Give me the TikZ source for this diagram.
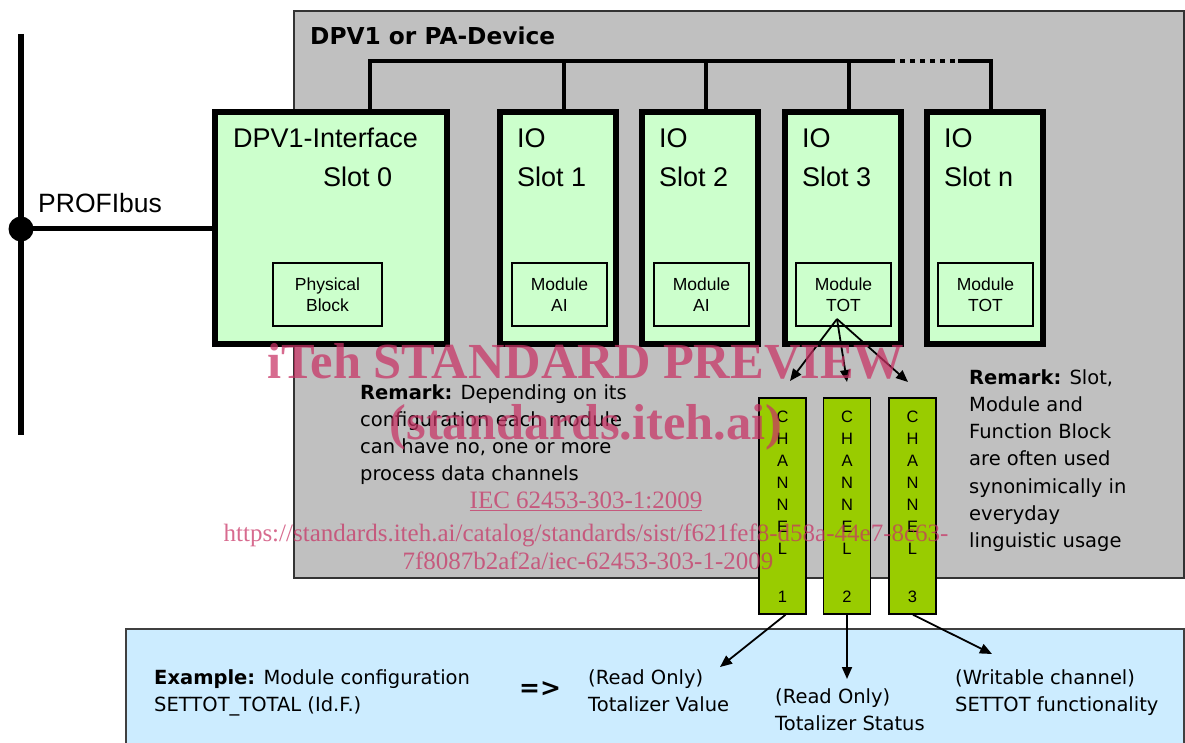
\documentclass[tikz,border=0pt]{standalone}
\usepackage{fontspec}
\setmainfont{Liberation Sans}
\newfontfamily\dvs{DejaVu Sans}
\newfontfamily\wmserif{Liberation Serif}
\usetikzlibrary{arrows.meta,calc}
\definecolor{devgray}{HTML}{C0C0C0}
\definecolor{slotgreen}{HTML}{CCFFCC}
\definecolor{chgreen}{HTML}{99CC00}
\definecolor{exblue}{HTML}{CCECFF}
\definecolor{wmred}{RGB}{200,50,100}
\tikzset{
  slotbox/.style={draw=black, line width=6pt, fill=slotgreen, minimum width=116pt, minimum height=232pt, inner sep=0pt},
  modbox/.style={draw=black, line width=1.5pt, fill=slotgreen, minimum width=95pt, minimum height=63pt, inner sep=0pt, align=center, font=\fontsize{17.5}{21}\selectfont},
  chbox/.style={draw=black, line width=1.5pt, fill=chgreen, minimum width=47pt, minimum height=216pt, inner sep=0pt},
  chtext/.style={inner sep=0pt, align=center, font=\fontsize{16.5}{22}\selectfont},
  biglabel/.style={inner sep=0pt, anchor=base west, font=\fontsize{27}{32}\selectfont},
  smalltext/.style={inner sep=0pt, anchor=north west, align=left, font=\dvs\fontsize{19.5}{27.3}\selectfont},
  wire/.style={draw=black, line width=4pt},
  chanarrow/.style={draw=black, line width=1.8pt, -{Triangle[length=12pt,width=10pt]}},
  wm/.style={inner sep=0pt, anchor=base, text=wmred, text opacity=0.72},
}
\begin{document}
\begin{tikzpicture}[x=1pt,y=-1pt]
\useasboundingbox (0,0) rectangle (1185,743);
\clip (0,0) rectangle (1185,743);

% device background
\node[draw=black!80, line width=2pt, fill=devgray, minimum width=890pt, minimum height=567pt, anchor=north west, inner sep=0pt] (dev) at (293,10) {};
\node[inner sep=0pt, anchor=base west, font=\dvs\bfseries\fontsize{23.3}{28}\selectfont] (title) at (310,45) {DPV1 or PA-Device};

% PROFIbus
\coordinate (bt) at (21,34);
\coordinate (bb) at (21,435);
\draw[line width=6pt] (bt) -- (bb);
\node[circle, fill=black, minimum size=25pt, inner sep=0pt] (pb) at (21,229) {};
\node[inner sep=0pt, anchor=base west, font=\fontsize{26.5}{32}\selectfont] (pblabel) at (38,213) {PROFIbus};

% slots
\node[slotbox, minimum width=232pt] (s0) at (331,228) {};
\node[slotbox] (s1) at (558,228) {};
\node[slotbox] (s2) at (700,228) {};
\node[slotbox] (s3) at (842.5,228) {};
\node[slotbox] (sn) at (984.5,228) {};

\draw[line width=5pt] (pb.center) -- (pb.center -| s0.west);

% internal bus
\coordinate (c0) at (370,61);
\coordinate (c1) at (564,61);
\coordinate (c2) at (706,61);
\coordinate (c3) at (849,61);
\coordinate (cn) at (991,61);
\coordinate (dotA) at (890,61);
\coordinate (dotB) at (958,61);
\draw[wire] (c0 |- s0.north) -- (c0) -- (dotA);
\draw[black, line width=4pt, dash pattern=on 5pt off 5pt] (dotA) -- (dotB);
\draw[wire] (dotB) -- (cn) -- (cn |- sn.north);
\draw[wire] (c1) -- (c1 |- s1.north);
\draw[wire] (c2) -- (c2 |- s2.north);
\draw[wire] (c3) -- (c3 |- s3.north);

% slot labels
\node[biglabel] (l0a) at (233,148) {DPV1-Interface};
\node[biglabel] (l0b) at (323,187) {Slot 0};
\node[biglabel] (l1a) at (517,148) {IO};
\node[biglabel] (l1b) at (517,187) {Slot 1};
\node[biglabel] (l2a) at (659,148) {IO};
\node[biglabel] (l2b) at (659,187) {Slot 2};
\node[biglabel] (l3a) at (802,148) {IO};
\node[biglabel] (l3b) at (802,187) {Slot 3};
\node[biglabel] (lna) at (944,148) {IO};
\node[biglabel] (lnb) at (944,187) {Slot n};

% modules
\node[modbox, minimum width=109pt] (m0) at (327.5,294.5) {Physical\\Block};
\node[modbox] (m1) at (559.5,294.5) {Module\\AI};
\node[modbox] (m2) at (701.5,294.5) {Module\\AI};
\node[modbox] (m3) at (843.5,294.5) {Module\\TOT};
\node[modbox] (mn) at (985.5,294.5) {Module\\TOT};

% example box
\node[draw=black!75, line width=2pt, fill=exblue, minimum width=1058pt, minimum height=200pt, anchor=north west, inner sep=0pt] (exb) at (125,628) {};

% channels
\node[chbox] (ch1) at (782.5,506) {};
\node[chbox] (ch2) at (847,506) {};
\node[chbox] (ch3) at (912.5,506) {};
\node[chtext, anchor=north] (ch1t) at (782.5,411) {C\\H\\A\\N\\N\\E\\L};
\node[chtext, anchor=north] (ch2t) at (847,411) {C\\H\\A\\N\\N\\E\\L};
\node[chtext, anchor=north] (ch3t) at (912.5,411) {C\\H\\A\\N\\N\\E\\L};
\node[chtext, anchor=base] (ch1n) at (782.5,602) {1};
\node[chtext, anchor=base] (ch2n) at (847,602) {2};
\node[chtext, anchor=base] (ch3n) at (912.5,602) {3};

% arrows module -> channels
\coordinate (tsrc) at (837,319);
\coordinate (t1) at (790,381);
\coordinate (t2) at (847,382);
\coordinate (t3) at (908,382);
\draw[chanarrow] (tsrc) -- (t1);
\draw[chanarrow] (tsrc) -- (t2);
\draw[chanarrow] (tsrc) -- (t3);

% arrows channels -> outputs
\coordinate (b1) at (720,667);
\coordinate (b2) at (847,679);
\coordinate (b3) at (992,654);
\draw[chanarrow] ($(ch1.south)+(3,0)$) -- (b1);
\draw[chanarrow] (ch2.south) -- (b2);
\draw[chanarrow] ($(ch3.south)+(0.5,0)$) -- (b3);

% remarks
\node[smalltext] (rem1) at (360,384) {\textbf{Remark:} Depending on its\\configuration each module\\can have no, one or more\\process data channels};
\node[smalltext] (rem2) at (969,369) {\textbf{Remark:} Slot,\\Module and\\Function Block\\are often used\\synonimically in\\everyday\\linguistic usage};

% example texts
\node[smalltext] (ex) at (154,669.5) {\textbf{Example:} Module configuration\\SETTOT\_TOTAL (Id.F.)};
\node[inner sep=0pt, font=\dvs\bfseries\fontsize{25}{30}\selectfont] (impl) at (540,689) {=>};
\node[smalltext] (o1) at (588,669.5) {(Read Only)\\Totalizer Value};
\node[smalltext] (o2) at (775,688.5) {(Read Only)\\Totalizer Status};
\node[smalltext] (o3) at (955,669.5) {(Writable channel)\\SETTOT functionality};

% watermark
\node[wm, font=\wmserif\bfseries\fontsize{50.5}{56}\selectfont] (wm1) at (586,378) {iTeh STANDARD PREVIEW};
\node[wm, font=\wmserif\bfseries\fontsize{50.5}{56}\selectfont] (wm2) at (586,439) {(standards.iteh.ai)};
\node[wm, font=\wmserif\fontsize{25}{30}\selectfont] (wm3) at (586,508) {\underline{IEC 62453-303-1:2009}};
\node[wm, font=\wmserif\fontsize{25}{30}\selectfont] (wm4) at (586,541) {https://standards.iteh.ai/catalog/standards/sist/f621fef8-d58a-44e7-8c63-};
\node[wm, font=\wmserif\fontsize{25}{30}\selectfont] (wm5) at (588,569) {7f8087b2af2a/iec-62453-303-1-2009};
\end{tikzpicture}
\end{document}
